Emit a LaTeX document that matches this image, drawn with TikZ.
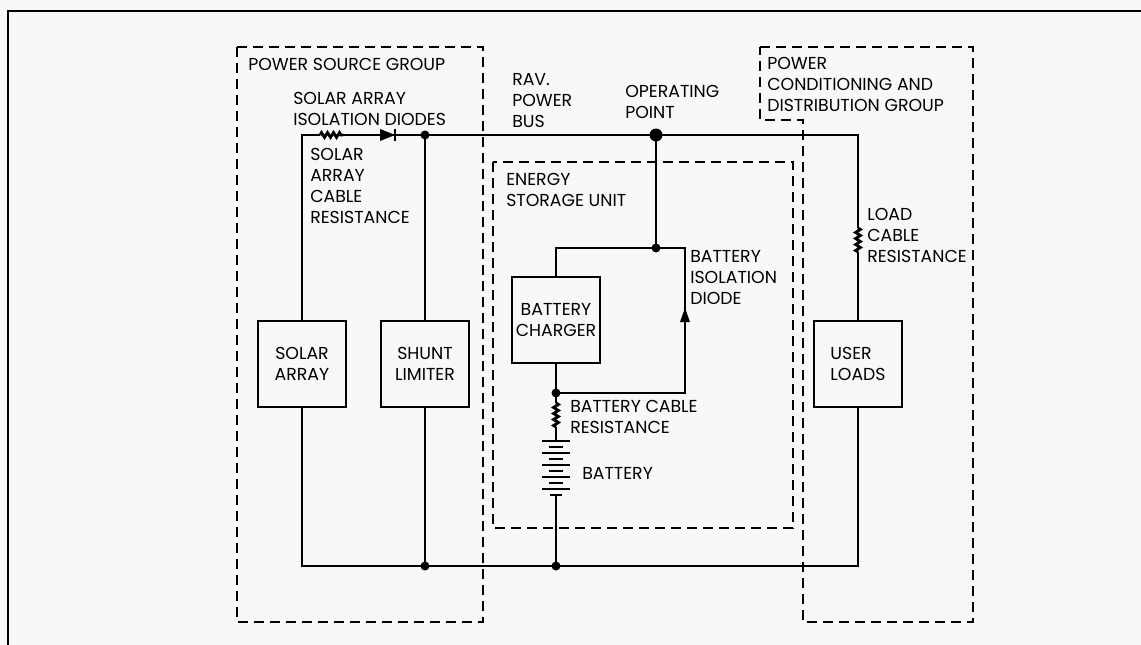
\documentclass[tikz,border=0pt]{standalone}
\usepackage{fontspec}
\setmainfont{Poppins}
\usetikzlibrary{decorations.pathmorphing}
\definecolor{bgc}{RGB}{248,248,248}

\begin{document}
\begin{tikzpicture}[x=0.75pt,y=0.75pt,yscale=-1,xscale=1,
        wire/.style={line width=2.1pt},
        grp/.style={line width=2.1pt,dash pattern=on 7.5pt off 4.5pt},
        blk/.style={draw,line width=1.8pt,minimum width=66pt,minimum height=64.5pt,inner sep=0pt,align=center,fill=bgc},
        lbl/.style={anchor=north west,inner sep=0pt,align=left},
        res/.style={decorate,decoration={zigzag,segment length=4.5pt,amplitude=1.8pt}},
        font=\fontsize{13}{15.75}\selectfont]
        \useasboundingbox (0,0) rectangle (1141,645);
        \fill[bgc] (0,0) rectangle (1141,645);
        
        %Shape: Frame
        \draw[line width=1.8pt] (8,645) -- (8,11) -- (1141,11);
        
        %Shape: Group boxes
        \draw[grp] (237,47) rectangle (483,622);
        \draw[grp] (493,162) rectangle (793,528);
        \draw[grp] (760,47) -- (973,47) -- (973,622) -- (803,622) -- (803,120) -- (760,120) -- cycle;
        
        % Corners and junctions
        \coordinate (tl) at (302,135);
        \coordinate (r1a) at (320,135);
        \coordinate (r1b) at (343,135);
        \coordinate (d1a) at (380,135);
        \coordinate (d1b) at (395,135);
        \coordinate (j1) at (425,135);
        \coordinate (op) at (656,135);
        \coordinate (tr) at (858,135);
        \coordinate (r2a) at (858,228);
        \coordinate (r2b) at (858,252);
        \coordinate (bl) at (302,566);
        \coordinate (j2) at (425,566);
        \coordinate (j3) at (556,566);
        \coordinate (br) at (858,566);
        \coordinate (j4) at (656,248);
        \coordinate (ltl) at (556,248);
        \coordinate (ltr) at (685,248);
        \coordinate (lbr) at (685,393);
        \coordinate (j5) at (556,393);
        \coordinate (r3a) at (556,403);
        \coordinate (r3b) at (556,427);
        \coordinate (battop) at (556,441);
        \coordinate (batbot) at (556,495);
        
        % Blocks
        \node[blk] (sa) at (302,364) {SOLAR\\ARRAY};
        \node[blk] (sl) at (425,364) {SHUNT\\LIMITER};
        \node[blk] (bc) at (556,320) {BATTERY\\CHARGER};
        \node[blk,align=left] (ul) at (858,364) {USER\\LOADS};
        
        % Bus wires
        \draw[wire] (sa.north) -- (tl) -- (r1a);
        \draw[wire,res] (r1a) -- (r1b);
        \draw[wire] (r1b) -- (d1a) -- (d1b) -- (j1) -- (op) -- (tr) -- (r2a);
        \draw[wire,res] (r2a) -- (r2b);
        \draw[wire] (r2b) -- (ul.north);
        \draw[wire] (j1) -- (sl.north);
        \draw[wire] (sl.south) -- (j2);
        \draw[wire] (sa.south) -- (bl) -- (j2) -- (j3) -- (br) -- (ul.south);
        
        % Diode: solar array isolation
        \fill (d1a) ++(0,-6) -- ++(15,6) -- ++(-15,6) -- cycle;
        \draw[wire] (d1b) ++(0,-6) -- ++(0,12);
        
        % Energy storage loop
        \draw[wire] (op) -- (j4);
        \draw[wire] (j4) -- (ltl) -- (bc.north);
        \draw[wire] (bc.south) -- (j5) -- (lbr) -- (ltr) -- (j4);
        \fill (lbr) ++(-5,-71) -- ++(10,0) -- ++(-5,-14) -- cycle;
        \draw[wire] (j5) -- (r3a);
        \draw[wire,res] (r3a) -- (r3b);
        \draw[wire] (r3b) -- (battop);
        
        % Battery
        \foreach \y in {441,453,465,477,489} \draw[line width=1.8pt] (542,\y) -- (570,\y);
        \foreach \y in {447,459,471,483} \draw[line width=1.8pt] (549,\y) -- (563,\y);
        \draw[line width=1.8pt] (550,495) -- (562,495);
        \draw[wire] (batbot) -- (j3);
        
        % Junction dots
        \fill (op) circle (6.5);
        \foreach \p in {j1,j2,j3,j4,j5} \fill (\p) circle (4.5);
        
        % Text Node
        \node[lbl] (psglbl) at (248,58) {POWER SOURCE GROUP};
        % Text Node
        \node[lbl] (sadlbl) at (293,92) {SOLAR ARRAY\\ISOLATION DIODES};
        % Text Node
        \node[lbl] (sacrlbl) at (310,148) {SOLAR\\ARRAY\\CABLE\\RESISTANCE};
        % Text Node
        \node[lbl] (buslbl) at (512,73) {RAV.\\POWER\\BUS};
        % Text Node
        \node[lbl] (oplbl) at (625,85) {OPERATING\\POINT};
        % Text Node
        \node[lbl] (pcdlbl) at (767,57) {POWER\\CONDITIONING AND\\DISTRIBUTION GROUP};
        % Text Node
        \node[lbl] (esulbl) at (506,173) {ENERGY\\STORAGE UNIT};
        % Text Node
        \node[lbl] (lcrlbl) at (867,208) {LOAD\\CABLE\\RESISTANCE};
        % Text Node
        \node[lbl] (bidlbl) at (690,250) {BATTERY\\ISOLATION\\DIODE};
        % Text Node
        \node[lbl] (bcrlbl) at (570,400) {BATTERY CABLE\\RESISTANCE};
        % Text Node
        \node[lbl] (batlbl) at (582,467) {BATTERY};
        
\end{tikzpicture}
\end{document}
